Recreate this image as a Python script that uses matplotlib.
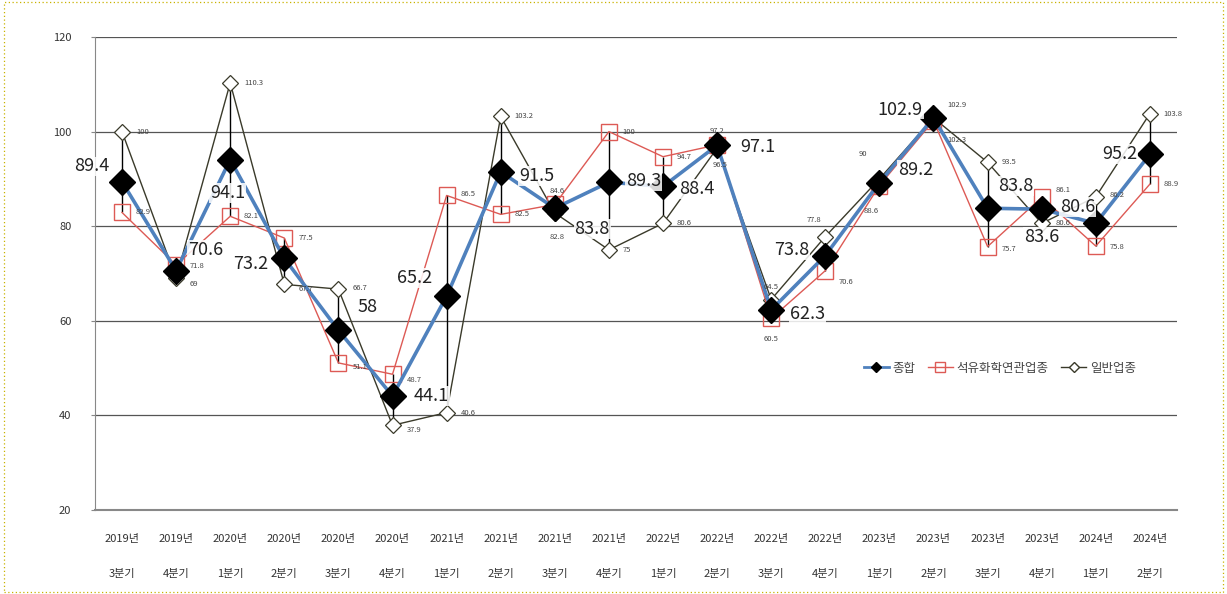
import matplotlib
matplotlib.use('Agg')
import matplotlib.pyplot as plt
from matplotlib.patches import Rectangle
from matplotlib.lines import Line2D

plt.rcParams['font.family'] = ['Noto Sans CJK KR', 'DejaVu Sans']

# quarters
years = ['2019년', '2019년', '2020년', '2020년', '2020년', '2020년', '2021년', '2021년', '2021년', '2021년',
         '2022년', '2022년', '2022년', '2022년', '2023년', '2023년', '2023년', '2023년', '2024년', '2024년']
quarters = ['3분기', '4분기', '1분기', '2분기', '3분기', '4분기', '1분기', '2분기', '3분기', '4분기',
            '1분기', '2분기', '3분기', '4분기', '1분기', '2분기', '3분기', '4분기', '1분기', '2분기']

total = [89.4, 70.6, 94.1, 73.2, 58, 44.1, 65.2, 91.5, 83.8, 89.3,
         88.4, 97.1, 62.3, 73.8, 89.2, 102.9, 83.8, 83.6, 80.6, 95.2]
petro = [82.9, 71.8, 82.1, 77.5, 51.1, 48.7, 86.5, 82.5, 84.6, 100,
         94.7, 97.2, 60.5, 70.6, 88.6, 102.3, 75.7, 86.1, 75.8, 88.9]
general = [100, 69, 110.3, 67.7, 66.7, 37.9, 40.6, 103.2, 82.8, 75,
           80.6, 96.5, 64.5, 77.8, 90, 102.9, 93.5, 80.6, 86.2, 103.8]

# label offsets (points)
total_off = [(-22, 11), (21, 15), (-2, -24), (-24, -4), (21, 17), (28, 0), (-23, 13), (26, -3), (27, -15), (25, 1),
             (24, -2), (29, -1), (26, -3), (-24, 4), (26, 9), (-24, 6), (20, 16), (0, -20), (-13, 12), (-22, 0)]
petro_off = [(10, 0), (10, -1), (10, 0), (10, 0), (10, -3), (10, -4), (10, 1), (10, 0), (2, 10), (10, 0),
             (10, 0), (0, 10), (0, -15), (10, -8), (-6, -18), (10, -14), (10, -2), (10, 5), (10, -1), (10, 0)]
gen_off = [(10, 0), (10, -4), (10, 0), (10, -3), (10, 1), (10, -3), (10, 0), (10, 0), (2, -17), (10, 0),
           (10, 0), (2, -12), (0, 9), (-8, 12), (-12, 18), (10, 9), (10, 0), (10, 0), (10, 1), (10, 0)]

fig = plt.figure(figsize=(12.27, 5.94), dpi=100)
ax = fig.add_axes([0.0774, 0.1414, 0.8818, 0.7963])
fig.patches.append(Rectangle((0.003, 0.003), 0.994, 0.994, transform=fig.transFigure,
                             fill=False, edgecolor='#c9b200', linestyle=(0, (1, 2)), linewidth=0.9))

x = list(range(len(total)))
ax.set_xlim(-0.5, len(total) - 0.5)
ax.set_ylim(20, 120)
ax.set_yticks([20, 40, 60, 80, 100, 120])
for yv in [40, 60, 80, 100, 120]:
    ax.axhline(yv, color='#555555', linewidth=0.9, zorder=0)

# high-low lines
lows = [min(a, b, c) for a, b, c in zip(total, petro, general)]
highs = [max(a, b, c) for a, b, c in zip(total, petro, general)]
ax.vlines(x, lows, highs, color='black', linewidth=1.0, zorder=1)

ax.plot(x, general, color='#3a3a2a', linewidth=1.0, marker='D', markersize=8,
        markerfacecolor='white', markeredgecolor='#3a3a2a', markeredgewidth=0.9, zorder=2)
ax.plot(x, petro, color='#dd5a55', linewidth=1.0, marker='s', markersize=12,
        markerfacecolor='none', markeredgecolor='#dd5a55', markeredgewidth=1.0, zorder=2)
ax.plot(x, total, color='#4f81bd', linewidth=2.6, marker='D', markersize=13,
        markerfacecolor='black', markeredgecolor='black', zorder=3)

for xi, v, (dx, dy) in zip(x, general, gen_off):
    ax.annotate(f'{v:g}', (xi, v), xytext=(dx, dy), textcoords='offset points',
                ha='left' if dx >= 10 else 'center', va='center', fontsize=5.5, color='#444444', zorder=4)
for xi, v, (dx, dy) in zip(x, petro, petro_off):
    ax.annotate(f'{v:g}', (xi, v), xytext=(dx, dy), textcoords='offset points',
                ha='left' if dx >= 10 else 'center', va='center', fontsize=5.5, color='#444444', zorder=4)
for xi, v, (dx, dy) in zip(x, total, total_off):
    ax.annotate(f'{v:g}', (xi, v), xytext=(dx, dy), textcoords='offset points',
                ha='center', va='center', fontsize=13, color='#222222', zorder=5,
                bbox=dict(boxstyle='square,pad=0.05', facecolor='white', edgecolor='none', alpha=0.85))

# two-line category labels drawn below the axis
ax.set_xticks(x)
ax.set_xticklabels([])
ax.tick_params(axis='x', length=0)
for xi, y, q in zip(x, years, quarters):
    ax.annotate(y, (xi, 0), xycoords=('data', 'axes fraction'), xytext=(0, -21), textcoords='offset points',
                ha='center', va='center', fontsize=8, color='#333333')
    ax.annotate(q, (xi, 0), xytext=(0, -46), xycoords=('data', 'axes fraction'), textcoords='offset points',
                ha='center', va='center', fontsize=8, color='#333333')

ax.tick_params(axis='y', length=3, color='#888888', labelsize=8, labelcolor='#333333', pad=14)
for s in ['top', 'right']:
    ax.spines[s].set_visible(False)
ax.spines['left'].set_color('#888888')
ax.spines['bottom'].set_color('#888888')
ax.spines['bottom'].set_linewidth(1.5)

handles = [
    Line2D([], [], color='#4f81bd', linewidth=2, marker='D', markersize=5, markerfacecolor='black', markeredgecolor='black'),
    Line2D([], [], color='#dd5a55', linewidth=1, marker='s', markersize=7, markerfacecolor='none', markeredgecolor='#dd5a55'),
    Line2D([], [], color='#3a3a2a', linewidth=1, marker='D', markersize=5, markerfacecolor='white', markeredgecolor='#3a3a2a'),
]
ax.legend(handles, ['종합', '석유화학연관업종', '일반업종'], loc='center left', bbox_to_anchor=(0.70, 0.30),
          frameon=False, fontsize=9, handlelength=2.0, handletextpad=0.3, columnspacing=1.0, ncol=3,
          labelcolor='#444444')

fig.savefig('out.png', dpi=100)
